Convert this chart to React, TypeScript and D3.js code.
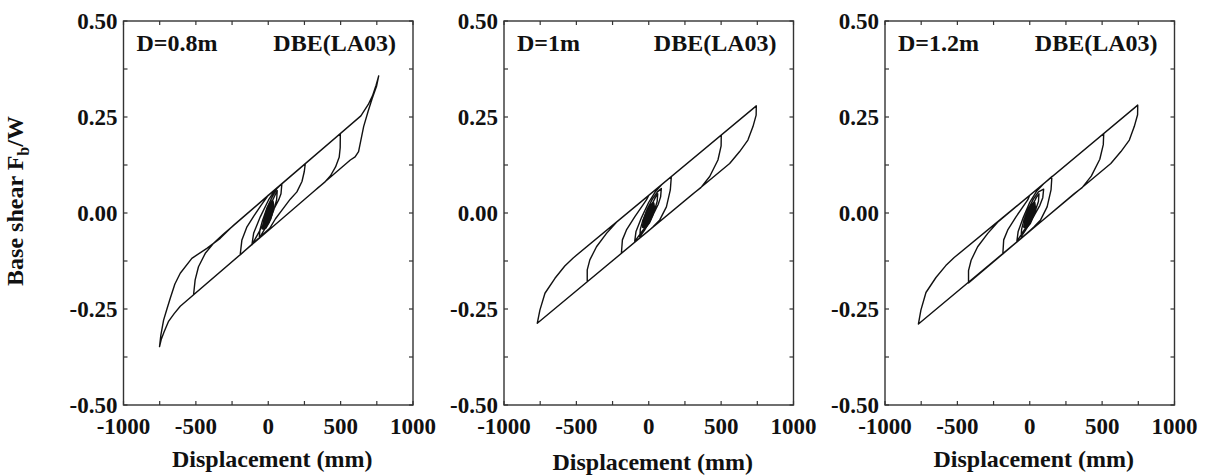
import * as d3 from 'd3'

// tick values
const X_TICKS = [-1000, -500, 0, 500, 1000]
const X_MINOR = [-750, -250, 250, 750]
const Y_TICKS = [-0.5, -0.25, 0, 0.25, 0.5]
const Y_MINOR = [-0.375, -0.125, 0.125, 0.375]

const ISOLATOR_LABELS = ['D=0.8m', 'D=1m', 'D=1.2m']
const RECORD_LABEL = 'DBE(LA03)'

// small-amplitude cycles near the origin (they fill in as a dark blot): [displacement mm, Fb/W]
const CORE_D08: [number, number][] = [
  [0, 0], [15, 0.02], [28, 0.03], [32, 0.02], [20, -0.005], [0, -0.025], [-20, -0.038], [-35, -0.04],
  [-30, -0.025], [-12, 0], [8, 0.02], [25, 0.028], [30, 0.01], [12, -0.015], [-10, -0.03], [-28, -0.035],
  [-22, -0.015], [-5, 0.008], [15, 0.025], [25, 0.02], [10, -0.005], [-12, -0.025], [-25, -0.03],
  [-15, -0.01], [5, 0.015], [20, 0.025],
]
const CORE_D10: [number, number][] = [
  [0, 0], [15, 0.018], [30, 0.025], [35, 0.012], [20, -0.008], [0, -0.025], [-22, -0.035], [-38, -0.036],
  [-32, -0.02], [-12, 0.002], [10, 0.018], [28, 0.024], [30, 0.008], [12, -0.015], [-12, -0.03],
  [-30, -0.032], [-22, -0.012], [-5, 0.008], [15, 0.02], [25, 0.016], [10, -0.006], [-14, -0.025],
  [-26, -0.028], [-15, -0.008], [5, 0.014], [22, 0.022],
]
const CORE_D12: [number, number][] = [
  [0, 0], [15, 0.018], [30, 0.026], [34, 0.012], [20, -0.008], [0, -0.026], [-22, -0.036], [-36, -0.036],
  [-30, -0.02], [-12, 0.002], [10, 0.018], [28, 0.025], [30, 0.008], [12, -0.015], [-12, -0.03],
  [-28, -0.033], [-22, -0.012], [-5, 0.008], [15, 0.02], [25, 0.016], [10, -0.006], [-14, -0.025],
  [-26, -0.028], [-15, -0.008], [5, 0.014], [22, 0.022],
]

// larger hysteresis cycles: [displacement mm, Fb/W]
const LOOP_D08: [number, number][] = [
  [20, 0.025],
  [45, 0.045], [62, 0.058], [58, 0.035], [40, 0.01], [10, -0.02], [-30, -0.045], [-62, -0.066],
  [-58, -0.045], [-40, -0.02], [-10, 0.012], [25, 0.04], [60, 0.064], [94, 0.076],
  [88, 0.05], [72, 0.034], [25, 0], [-44, -0.036], [-113, -0.083], [-101, -0.053], [-55, -0.01],
  [2, 0.034], [50, 0.062], [94, 0.076], [256, 0.129],
  [249, 0.108], [233, 0.082], [198, 0.055], [152, 0.036], [100, 0.01], [50, -0.015], [10, -0.04],
  [-194, -0.109],
  [-182, -0.07], [-147, -0.036], [-100, -0.008], [-50, 0.02], [0, 0.046], [498, 0.207],
  [497, 0.17], [490, 0.145], [465, 0.12], [430, 0.097], [390, 0.08], [345, 0.066], [320, 0.058],
  [-516, -0.213],
  [-505, -0.174], [-482, -0.14], [-435, -0.105], [-378, -0.079], [-309, -0.055], [640, 0.253],
  [690, 0.282], [720, 0.305], [745, 0.333], [763, 0.357],
  [748, 0.33], [718, 0.298], [690, 0.265], [659, 0.225], [640, 0.19], [624, 0.16], [600, 0.146],
  [567, 0.138], [-608, -0.243],
  [-650, -0.262], [-690, -0.283], [-720, -0.31], [-740, -0.33], [-751, -0.348],
  [-742, -0.318], [-723, -0.279], [-700, -0.25], [-677, -0.222], [-645, -0.185], [-608, -0.157],
  [-528, -0.118], [-424, -0.092], [-332, -0.066], [-240, -0.032], [0, 0.046],
]

const LOOP_D10: [number, number][] = [
  [22, 0.022],
  [45, 0.04], [62, 0.05], [58, 0.03], [40, 0.008], [10, -0.02], [-30, -0.045], [-62, -0.062],
  [-58, -0.042], [-40, -0.018], [-10, 0.01], [25, 0.036], [60, 0.055], [87, 0.064],
  [82, 0.042], [65, 0.022], [25, -0.008], [-40, -0.045], [-97, -0.074], [-88, -0.048], [-50, -0.012],
  [0, 0.028], [45, 0.055], [87, 0.073], [156, 0.095],
  [149, 0.06], [122, 0.016], [76, -0.018], [30, -0.036], [0, -0.046], [-189, -0.105],
  [-182, -0.07], [-154, -0.044], [-97, -0.01], [-16, 0.034], [0, 0.046], [501, 0.203],
  [500, 0.175], [478, 0.138], [421, 0.095], [360, 0.066], [306, 0.05], [-425, -0.179],
  [-425, -0.148], [-407, -0.122], [-361, -0.088], [-292, -0.053], [-223, -0.024], [743, 0.279],
  [742, 0.255], [720, 0.225], [685, 0.19], [628, 0.16], [559, 0.129], [-770, -0.287],
  [-752, -0.253], [-717, -0.209], [-648, -0.17], [-580, -0.138], [-522, -0.117], [0, 0.046],
]

const LOOP_D12: [number, number][] = [
  [22, 0.022],
  [45, 0.04], [64, 0.05], [60, 0.03], [40, 0.008], [10, -0.02], [-30, -0.045], [-60, -0.062],
  [-56, -0.042], [-40, -0.018], [-10, 0.01], [25, 0.036], [60, 0.055], [96, 0.062],
  [90, 0.04], [70, 0.02], [25, -0.01], [-40, -0.045], [-89, -0.074], [-80, -0.048], [-45, -0.012],
  [0, 0.028], [50, 0.058], [96, 0.076], [153, 0.095],
  [147, 0.06], [120, 0.016], [75, -0.018], [30, -0.036], [0, -0.046], [-186, -0.107],
  [-180, -0.07], [-152, -0.044], [-95, -0.01], [-14, 0.034], [0, 0.046], [511, 0.207],
  [508, 0.178], [484, 0.14], [425, 0.096], [362, 0.066], [306, 0.05], [-423, -0.182],
  [-423, -0.15], [-405, -0.123], [-360, -0.088], [-290, -0.053], [-222, -0.024], [746, 0.281],
  [745, 0.256], [722, 0.225], [688, 0.19], [630, 0.16], [560, 0.129], [-769, -0.289],
  [-752, -0.253], [-717, -0.207], [-648, -0.168], [-580, -0.137], [-522, -0.116], [0, 0.046],
]

const CORES = [CORE_D08, CORE_D10, CORE_D12]
const LOOPS = [LOOP_D08, LOOP_D10, LOOP_D12]

const W = 1207
const H = 475
const FRAME_LEFT = [123.5, 504, 885]
const FRAME_W = 289.5
const TOP = 21
const BOTTOM = 405
const FONT = "'Liberation Serif', 'Times New Roman', serif"
const INK = '#111'

function Panel({ index }: { index: number }) {
  const left = FRAME_LEFT[index]
  const x = d3.scaleLinear().domain([-1000, 1000]).range([left, left + FRAME_W])
  const y = d3.scaleLinear().domain([-0.5, 0.5]).range([BOTTOM, TOP])
  const line = d3.line<[number, number]>().x(d => x(d[0])).y(d => y(d[1]))
  const tick = 4
  const allX = [...X_TICKS, ...X_MINOR]
  const allY = [...Y_TICKS, ...Y_MINOR]

  return (
    <g>
      {/* traces */}
      <path d={line(CORES[index]) || ''} fill={INK} stroke={INK} strokeWidth={3} strokeLinejoin="round" />
      <path d={line(LOOPS[index]) || ''} fill="none" stroke={INK} strokeWidth={1.4} strokeLinejoin="round" />

      {/* inward ticks on all four sides */}
      {allX.map(v => (
        <g key={'x' + v}>
          <line x1={x(v)} x2={x(v)} y1={BOTTOM} y2={BOTTOM - tick} stroke="#333" strokeWidth={1.2} />
          <line x1={x(v)} x2={x(v)} y1={TOP} y2={TOP + tick} stroke="#333" strokeWidth={1.2} />
        </g>
      ))}
      {allY.map(v => (
        <g key={'y' + v}>
          <line x1={x(-1000)} x2={x(-1000) + tick} y1={y(v)} y2={y(v)} stroke="#333" strokeWidth={1.2} />
          <line x1={x(1000)} x2={x(1000) - tick} y1={y(v)} y2={y(v)} stroke="#333" strokeWidth={1.2} />
        </g>
      ))}
      <rect x={left} y={TOP} width={FRAME_W} height={BOTTOM - TOP} fill="none" stroke="#333" strokeWidth={1.4} />

      {/* tick labels */}
      {X_TICKS.map(v => (
        <text key={'xl' + v} x={x(v)} y={BOTTOM + 29} textAnchor="middle"
          fontFamily={FONT} fontWeight="bold" fontSize={23} fill={INK}>{v}</text>
      ))}
      {Y_TICKS.map(v => (
        <text key={'yl' + v} x={left - 6} y={y(v) + 8} textAnchor="end"
          fontFamily={FONT} fontWeight="bold" fontSize={23} fill={INK}>{v.toFixed(2)}</text>
      ))}

      {/* in-frame labels */}
      <text x={left + 13} y={51} fontFamily={FONT} fontWeight="bold" fontSize={24} fill={INK}>{ISOLATOR_LABELS[index]}</text>
      <text x={left + FRAME_W - 17} y={51} textAnchor="end" fontFamily={FONT} fontWeight="bold" fontSize={24} fill={INK}>{RECORD_LABEL}</text>

      {/* axis title */}
      <text x={x(0) + 4} y={index === 1 ? 470 : 467} textAnchor="middle"
        fontFamily={FONT} fontWeight="bold" fontSize={24} fill={INK}>Displacement (mm)</text>
    </g>
  )
}

export default function App() {
  return (
    <div style={{ position: 'absolute', left: 0, top: 0 }}>
      <svg width={W} height={H} style={{ display: 'block', background: '#fff' }}>
        {[0, 1, 2].map(i => <Panel key={i} index={i} />)}
        <text transform="translate(23,201) rotate(-90)" textAnchor="middle"
          fontFamily={FONT} fontWeight="bold" fontSize={24} fill={INK}>
          Base shear F<tspan fontSize={16} dy={6}>b</tspan><tspan dy={-6}>/W</tspan>
        </text>
      </svg>
    </div>
  )
}
